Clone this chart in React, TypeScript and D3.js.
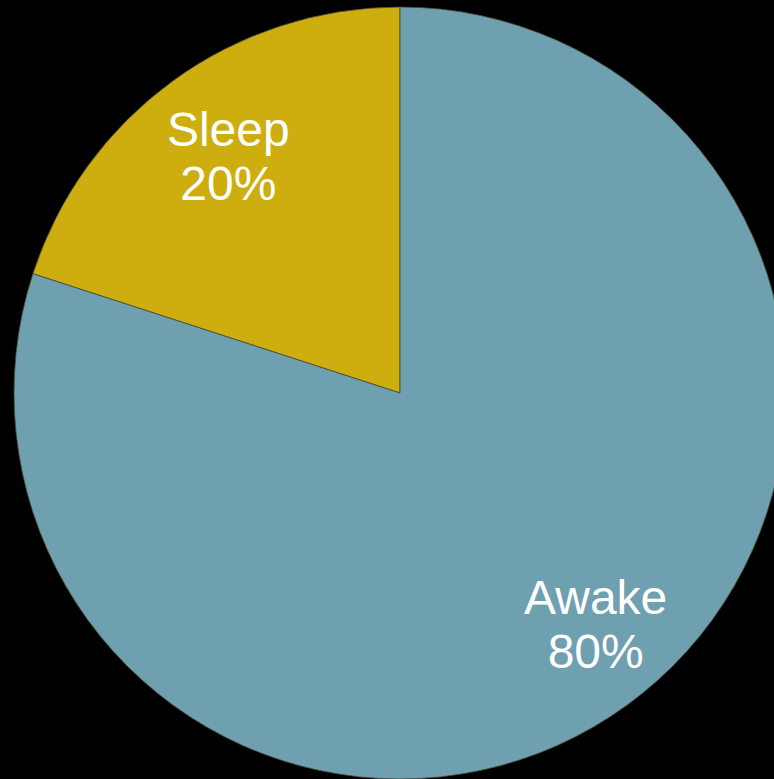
import React from "react";
import * as d3 from "d3";

const categories = ["Sleep", "Awake"];
const values = [20, 80];
const colors = ["#cdae0e", "#6ea0b0"];

const W = 774;
const H = 779;
const CX = 400;
const CY = 393;
const R = 386;
// small label placement nudges (style), per slice
const labelNudge: [number, number][] = [
  [3, 0],
  [21, -12],
];

export default function App() {
  const data = categories.map((c, i) => ({ name: c, value: values[i], color: colors[i] }));
  const total = d3.sum(values);
  const pie = d3
    .pie<any>()
    .value((d: any) => d.value)
    .sort(null)
    .startAngle(-2 * Math.PI * (values[0] / total))
    .endAngle(2 * Math.PI - 2 * Math.PI * (values[0] / total));
  const arcs = pie(data);
  const arc = d3.arc<any>().innerRadius(0).outerRadius(R);
  const labelArc = d3.arc<any>().innerRadius(0).outerRadius(R * 0.77 * 2);
  return (
    <div style={{ position: "fixed", left: 0, top: 0, width: W, height: H, background: "#000" }}>
      <svg width={W} height={H} style={{ display: "block" }}>
        <rect x={0} y={0} width={W} height={H} fill="#000" />
        <g transform={`translate(${CX},${CY})`}>
          {arcs.map((a, i) => (
            <path key={i} d={arc(a) as string} fill={a.data.color} stroke="#4a4a3a" strokeWidth={0.8} />
          ))}
          {arcs.map((a, i) => {
            const [cx, cy] = labelArc.centroid(a);
            const x = cx + labelNudge[i][0];
            const y = cy + labelNudge[i][1];
            return (
              <text
                key={"t" + i}
                x={x}
                y={y}
                textAnchor="middle"
                fill="#fff"
                fontFamily="'Liberation Sans', Arial, sans-serif"
                fontSize={48}
              >
                <tspan x={x} dy={-7}>{a.data.name}</tspan>
                <tspan x={x} dy={54}>{`${a.data.value}%`}</tspan>
              </text>
            );
          })}
        </g>
      </svg>
    </div>
  );
}
